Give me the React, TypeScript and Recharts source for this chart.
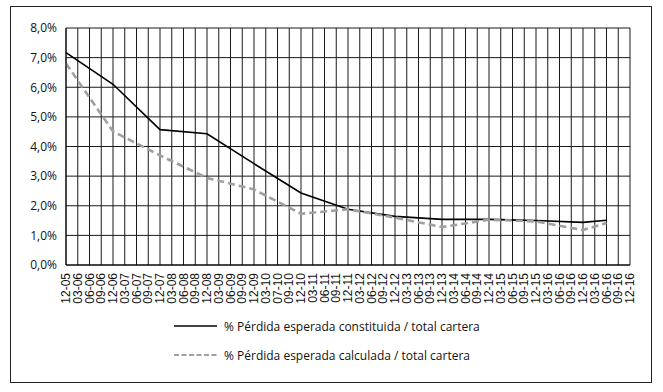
import { LineChart, Line, CartesianGrid, XAxis, YAxis, Legend } from 'recharts';

// trimestres (etiquetas tal como aparecen en el eje)
const periodos = [
  '12-05', '03-06', '06-06', '09-06', '12-06', '03-07', '06-07', '09-07', '12-07',
  '03-08', '06-08', '09-08', '12-08', '03-09', '06-09', '09-09', '12-09',
  '03-10', '07-10', '09-10', '12-10', '03-11', '06-11', '09-11', '12-11',
  '03-12', '06-12', '09-12', '12-12', '03-13', '06-13', '09-13', '12-13',
  '03-14', '06-14', '09-14', '12-14', '03-15', '06-15', '09-15', '12-15',
  '03-16', '06-16', '09-16', '12-16', '03-16', '06-16', '09-16', '12-16',
];

// % pérdida esperada constituida / total cartera
const constituida = [
  7.17, null, null, null, 6.10, null, null, null, 4.57,
  null, null, null, 4.43, null, null, null, 3.42,
  null, null, null, 2.43, null, null, null, 1.88,
  null, null, null, 1.64, null, null, null, 1.54,
  null, null, null, 1.54, null, null, null, 1.50,
  null, null, null, 1.44, null, 1.51, null, null,
];

// % pérdida esperada calculada / total cartera
const calculada = [
  6.80, null, null, null, 4.51, null, null, null, 3.70,
  null, null, null, 2.94, null, null, null, 2.55,
  null, null, null, 1.73, null, null, null, 1.88,
  null, null, null, 1.60, null, null, null, 1.28,
  null, null, null, 1.53, null, null, null, 1.47,
  null, null, null, 1.18, null, 1.42, null, null,
];

const yTicks = [0, 1, 2, 3, 4, 5, 6, 7, 8];

const data = periodos.map((p, i) => ({
  periodo: p,
  constituida: constituida[i],
  calculada: calculada[i],
}));

const fmtPct = (v: number) => v.toFixed(1).replace('.', ',') + '%';

const XTick = (props: any) => {
  const { x, y, payload } = props;
  return (
    <text
      x={x}
      y={y}
      transform={`rotate(-90 ${x} ${y})`}
      textAnchor="end"
      dominantBaseline="central"
      fontFamily="Liberation Sans, Arial, sans-serif"
      fontSize={12}
      fill="#111"
    >
      {payload.value}
    </text>
  );
};

const Leyenda = () => (
  <svg width={663} height={60} style={{ display: 'block' }}>
    <line x1={174} x2={217} y1={14} y2={14} stroke="#000" strokeWidth={1.6} />
    <text x={224} y={14} dominantBaseline="central" fontFamily="Open Sans, sans-serif" fontSize={12} fill="#111">
      % Pérdida esperada constituida / total cartera
    </text>
    <line x1={174} x2={217} y1={43} y2={43} stroke="#a0a0a0" strokeWidth={2} strokeDasharray="5 2.5" />
    <text x={224} y={43} dominantBaseline="central" fontFamily="Open Sans, sans-serif" fontSize={12} fill="#111">
      % Pérdida esperada calculada / total cartera
    </text>
  </svg>
);

export default function App() {
  return (
    <div style={{ position: 'absolute', left: 0, top: 0, width: 663, height: 392, background: '#fff' }}>
      <div
        style={{
          position: 'absolute',
          left: 10,
          top: 6,
          width: 642,
          height: 377,
          border: '1.5px solid #222',
          boxSizing: 'border-box',
        }}
      />
      <LineChart
        width={663}
        height={392}
        data={data}
        margin={{ top: 28, right: 33, left: 10, bottom: 17 }}
        style={{ position: 'absolute', left: 0, top: 0 }}
      >
        <CartesianGrid stroke="#1a1a1a" strokeWidth={1} />
        <XAxis
          dataKey="periodo"
          interval={0}
          tickLine={false}
          tickSize={0}
          tickMargin={8}
          tick={<XTick />}
          axisLine={{ stroke: '#000' }}
          height={50}
        />
        <YAxis
          domain={[0, 8]}
          ticks={yTicks}
          interval={0}
          tickFormatter={fmtPct}
          tickLine={false}
          tickSize={0}
          tickMargin={9}
          width={56}
          axisLine={{ stroke: '#000' }}
          tick={{ fontFamily: 'Open Sans, sans-serif', fontSize: 12, fill: '#111' }}
        />
        <Line
          type="linear"
          dataKey="constituida"
          stroke="#000"
          strokeWidth={1.6}
          dot={false}
          connectNulls
          isAnimationActive={false}
        />
        <Line
          type="linear"
          dataKey="calculada"
          stroke="#a0a0a0"
          strokeWidth={2.6}
          strokeDasharray="7 4"
          dot={false}
          connectNulls
          isAnimationActive={false}
        />
        <Legend
          content={<Leyenda />}
          wrapperStyle={{ top: 312, left: 0, width: 663, height: 60 }}
        />
      </LineChart>
    </div>
  );
}
